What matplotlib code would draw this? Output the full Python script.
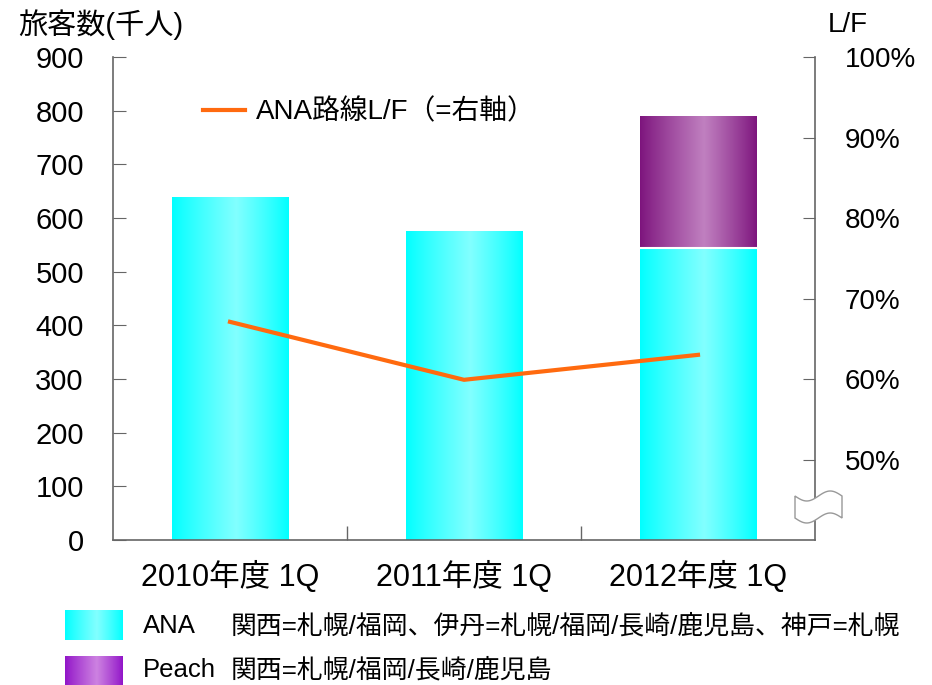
import numpy as np
import matplotlib.pyplot as plt
from matplotlib.patches import Polygon, Rectangle

plt.rcParams['font.family'] = ['Liberation Sans', 'Noto Sans CJK JP']

categories = ['2010年度 1Q', '2011年度 1Q', '2012年度 1Q']
ana = [639, 576, 544]
peach = [0, 0, 246]
lf = [67.1, 59.9, 63.0]
lf_ticks = [50, 60, 70, 80, 90, 100]

W, H = 932, 685


def grad_cmap(edge, center, n=256, peak=0.55):
    t = np.linspace(0, 1, n)
    w = np.where(t < peak, t / peak, (1 - t) / (1 - peak))
    w = np.clip(w, 0, 1) ** 0.9
    e = np.array(edge) / 255.0
    c = np.array(center) / 255.0
    return (e[None, :] * (1 - w[:, None]) + c[None, :] * w[:, None])[None, :, :]


cyan_g = grad_cmap((0, 255, 255), (130, 255, 255))
purple_g = grad_cmap((125, 20, 125), (192, 128, 192))
peach_leg_g = grad_cmap((145, 20, 200), (205, 130, 225))

fig = plt.figure(figsize=(W / 100, H / 100), dpi=100)
ax = fig.add_axes([113 / W, 1 - 540 / H, (815 - 113) / W, (540 - 57) / H])
x = np.arange(len(categories))
bw = 0.5


def gradient_bars(xs, heights, bottoms, img):
    for xi, h, b in zip(xs, heights, bottoms):
        if h <= 0:
            continue
        r = Rectangle((xi - bw / 2, b), bw, h, facecolor='none', edgecolor='none')
        ax.add_patch(r)
        im = ax.imshow(img, extent=(xi - bw / 2, xi + bw / 2, b, b + h),
                       aspect='auto', zorder=2, interpolation='bilinear')
        im.set_clip_path(r)


gradient_bars(x, ana, [0] * 3, cyan_g)
gradient_bars(x, peach, ana, purple_g)
# thin white separator between stacked segments
ax.plot([x[2] - bw / 2, x[2] + bw / 2], [ana[2], ana[2]], color='white', lw=1.5, zorder=3)

ax.set_xlim(-0.5, 2.5)
ax.set_ylim(0, 900)
ax.set_yticks(range(0, 901, 100))
ax.set_xticks([0.5, 1.5], minor=False)
ax.set_xticklabels([])
ax.set_xticks(x, minor=True)
ax.set_xticklabels(categories, minor=True, fontsize=22)
ax.tick_params(axis='x', which='major', direction='in', length=10, color='#666666', width=1)
ax.tick_params(axis='x', which='minor', length=0, pad=15)
ax.tick_params(axis='y', direction='in', length=9, color='#666666', labelsize=21, pad=21)
for s in ['left', 'bottom']:
    ax.spines[s].set_color('#666666')
    ax.spines[s].set_linewidth(1.2)
ax.spines['top'].set_visible(False)
ax.spines['right'].set_visible(False)

ax2 = ax.twinx()
line, = ax2.plot(x, lf, color='#FF6A0F', lw=3, label='ANA路線L/F（=右軸）')
ax2.set_ylim(40, 100)
ax2.set_yticks(lf_ticks)
ax2.set_yticklabels([f'{v}%' for v in lf_ticks])
ax2.tick_params(axis='y', direction='in', length=9, color='#666666', labelsize=20, pad=21.5)
ax2.spines['right'].set_color('#666666')
ax2.spines['right'].set_linewidth(1.2)
for s in ['top', 'left', 'bottom']:
    ax2.spines[s].set_visible(False)

fig.legend(handles=[line], loc='center left', bbox_to_anchor=(203 / W, 1 - 112 / H),
           frameon=False, fontsize=20, handlelength=1.5, handletextpad=0.4,
           borderpad=0, borderaxespad=0)

fig.text(18 / W, 1 - 25 / H, '旅客数(千人)', fontsize=21, va='center', ha='left')
fig.text(848 / W, 1 - 25 / H, 'L/F', fontsize=20, va='center', ha='center')

# axis break symbol on the right axis
t = np.linspace(0, 1, 40)
xs_top = 795 + 47 * t
ys_top = 496 + 5 * np.sin(2 * np.pi * t)
xs_bot = xs_top[::-1]
ys_bot = ys_top[::-1] + 22
pts = np.column_stack([np.concatenate([xs_top, xs_bot]), np.concatenate([ys_top, ys_bot])])
pts = np.column_stack([pts[:, 0] / W, 1 - pts[:, 1] / H])
fig.add_artist(Polygon(pts, closed=True, facecolor='white', edgecolor='#999999',
                       lw=1, transform=fig.transFigure, zorder=10))

# bottom legend
lax1 = fig.add_axes([65 / W, 1 - 640 / H, 58 / W, 30 / H])
lax1.imshow(cyan_g, aspect='auto', extent=(0, 1, 0, 1))
lax1.axis('off')
lax2 = fig.add_axes([65 / W, 1 - 685 / H, 58 / W, 29 / H])
lax2.imshow(peach_leg_g, aspect='auto', extent=(0, 1, 0, 1))
lax2.axis('off')
fig.text(143 / W, 1 - 626 / H, 'ANA', fontsize=18.5, va='center')
fig.text(231 / W, 1 - 626 / H, '関西=札幌/福岡、伊丹=札幌/福岡/長崎/鹿児島、神戸=札幌', fontsize=18.6, va='center')
fig.text(143 / W, 1 - 670 / H, 'Peach', fontsize=18.5, va='center')
fig.text(231 / W, 1 - 670 / H, '関西=札幌/福岡/長崎/鹿児島', fontsize=18.6, va='center')

fig.savefig('out.png', dpi=100)
